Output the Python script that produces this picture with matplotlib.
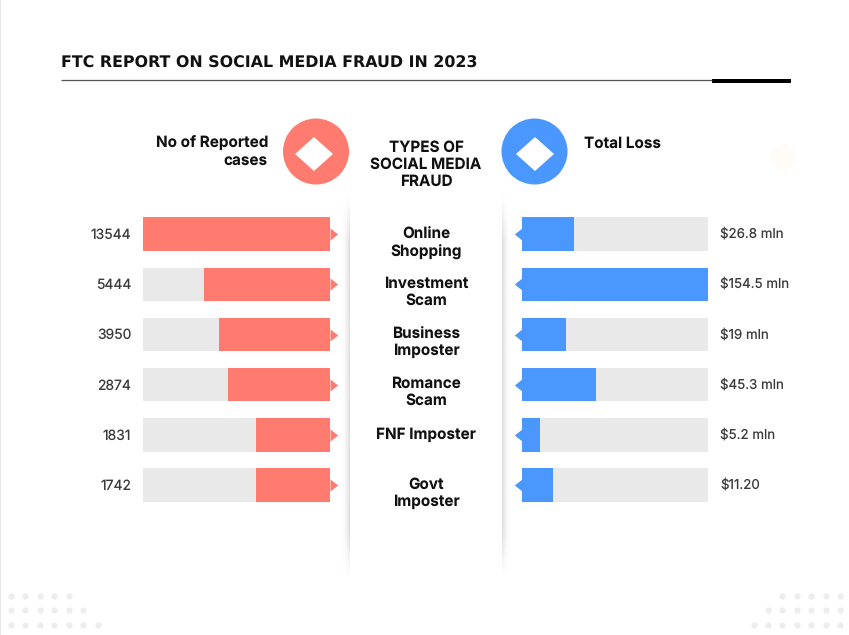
import numpy as np
import matplotlib
matplotlib.use('Agg')
import matplotlib.pyplot as plt
from matplotlib.patches import Circle, Polygon, Rectangle
from matplotlib.path import Path

plt.rcParams['font.family'] = ['Inter', 'DejaVu Sans']
plt.rcParams['text.hinting'] = 'none'

types = ['Online\nShopping', 'Investment\nScam', 'Business\nImposter',
         'Romance\nScam', 'FNF Imposter', 'Govt\nImposter']
case_labels = ['13544', '5444', '3950', '2874', '1831', '1742']
loss_labels = ['$26.8 mln', '$154.5 mln', '$19 mln', '$45.3 mln', '$5.2 mln', '$11.20']
# filled share of each track in percent, as drawn in the picture
case_fill = [100, 67.3, 59.3, 54.5, 39.5, 39.2]
loss_fill = [28, 100, 24, 40, 10, 17]
track = [100, 100, 100, 100, 100, 100]

RED = '#ff7a6f'
BLUE = '#4997ff'
GREY = '#e9e9e9'
W, H = 849, 635

fig = plt.figure(figsize=(W / 100, H / 100), dpi=100, facecolor='white')

# overlay in pixel coordinates for the decoration and the text
bg = fig.add_axes([0, 0, 1, 1])
bg.set_xlim(0, W)
bg.set_ylim(H, 0)
bg.axis('off')

bg.add_patch(Rectangle((0, 0), 1.2, H, color='#e6e6e6', lw=0))
bg.plot([61, 712], [79.5, 79.5], color='#555555', lw=0.9, solid_capstyle='butt')
bg.add_patch(Rectangle((712, 79.2), 79, 4, color='black', lw=0))
bg.text(61, 63.5, 'FTC REPORT ON SOCIAL MEDIA FRAUD IN 2023', family='DejaVu Sans',
        fontweight='bold', fontsize=11.4, va='center', ha='left', color='#111111')

# column shadows
fade = np.clip(np.minimum(np.linspace(0, 1, 200) / 0.12, np.linspace(1, 0, 200) / 0.12), 0, 1)
grad = np.linspace(0, 1, 20) ** 2
cmap = matplotlib.colors.LinearSegmentedColormap.from_list('sh', ['#ffffff', '#dcdcdc'])
bg.imshow(np.outer(fade, grad), extent=(341, 349.5, 578, 195), cmap=cmap, vmin=0, vmax=1,
          aspect='auto', zorder=1)
bg.imshow(np.outer(fade, grad[::-1]), extent=(502.5, 511, 578, 195), cmap=cmap, vmin=0, vmax=1,
          aspect='auto', zorder=1)
bg.set_xlim(0, W)
bg.set_ylim(H, 0)

# header icons
for cx, col in [(316, RED), (534.5, BLUE)]:
    bg.add_patch(Circle((cx, 151.5), 33, color=col, lw=0))
    dx = cx - 2 if col == RED else cx + 0.5
    bg.add_patch(Polygon([(dx - 19, 154), (dx, 137), (dx + 19, 154), (dx, 171)],
                         color='white', lw=0))
bg.add_patch(Circle((783, 157), 13, color='#fffcf8', lw=0))

# corner dots
for i, n in enumerate([5, 6, 7]):
    y = 596 + i * 14.4
    bg.scatter(11 + np.arange(n) * 14.5, [y] * n, s=20, color='#ededed', lw=0)
    bg.scatter(840 - np.arange(n) * 14.4, [y] * n, s=20, color='#ededed', lw=0)

head = dict(fontweight='bold', fontsize=11, color='#111111', linespacing=1.2)
bg.text(268, 152, 'No of Reported\ncases', ha='right', va='center', **head)
bg.text(584, 144, 'Total Loss', ha='left', va='center', **head)
bg.text(426, 164.5, 'TYPES OF\nSOCIAL MEDIA\nFRAUD', ha='center', va='center', **head)

label_y = [242.5, 292, 342.5, 392.5, 435, 493]
for name, y in zip(types, label_y):
    bg.text(426, y, name, ha='center', va='center', **head)

# bar panels: rows are 50.2 px apart, so the axes cover 6 rows
top, bottom = 209.0, 510.2
rows = np.arange(len(types))
tri = Path([(0, -0.8), (1, 0), (0, 0.8), (0, -0.8)], closed=True)

left = fig.add_axes([143 / W, 1 - bottom / H, 186.5 / W, (bottom - top) / H])
left.barh(rows, track, height=0.667, color=GREY)
left.barh(rows, case_fill, height=0.667, color=RED)
left.plot([0] * 6, rows, ls='none', marker=tri, ms=11, color=RED, mew=0, clip_on=False)
left.set_xlim(100, 0)

right = fig.add_axes([521.5 / W, 1 - bottom / H, 186.5 / W, (bottom - top) / H])
right.barh(rows, track, height=0.667, color=GREY)
right.barh(rows, loss_fill, height=0.667, color=BLUE)
right.plot([0] * 6, rows, ls='none', marker=tri.transformed(matplotlib.transforms.Affine2D().scale(-1, 1)),
           ms=11, color=BLUE, mew=0, clip_on=False)
right.set_xlim(0, 100)

for ax in (left, right):
    ax.set_ylim(5.5, -0.5)
    ax.axis('off')
    ax.patch.set_alpha(0)

for r, c, l in zip(rows, case_labels, loss_labels):
    left.annotate(c, (100, r), xytext=(-8.5, -0.7), textcoords='offset points', ha='right',
                  va='center', fontsize=10, color='#3a3a3a')
    right.annotate(l, (100, r), xytext=(9, 0), textcoords='offset points', ha='left',
                   va='center', fontsize=9.6, color='#3a3a3a')

fig.savefig('out.png', dpi=100)
